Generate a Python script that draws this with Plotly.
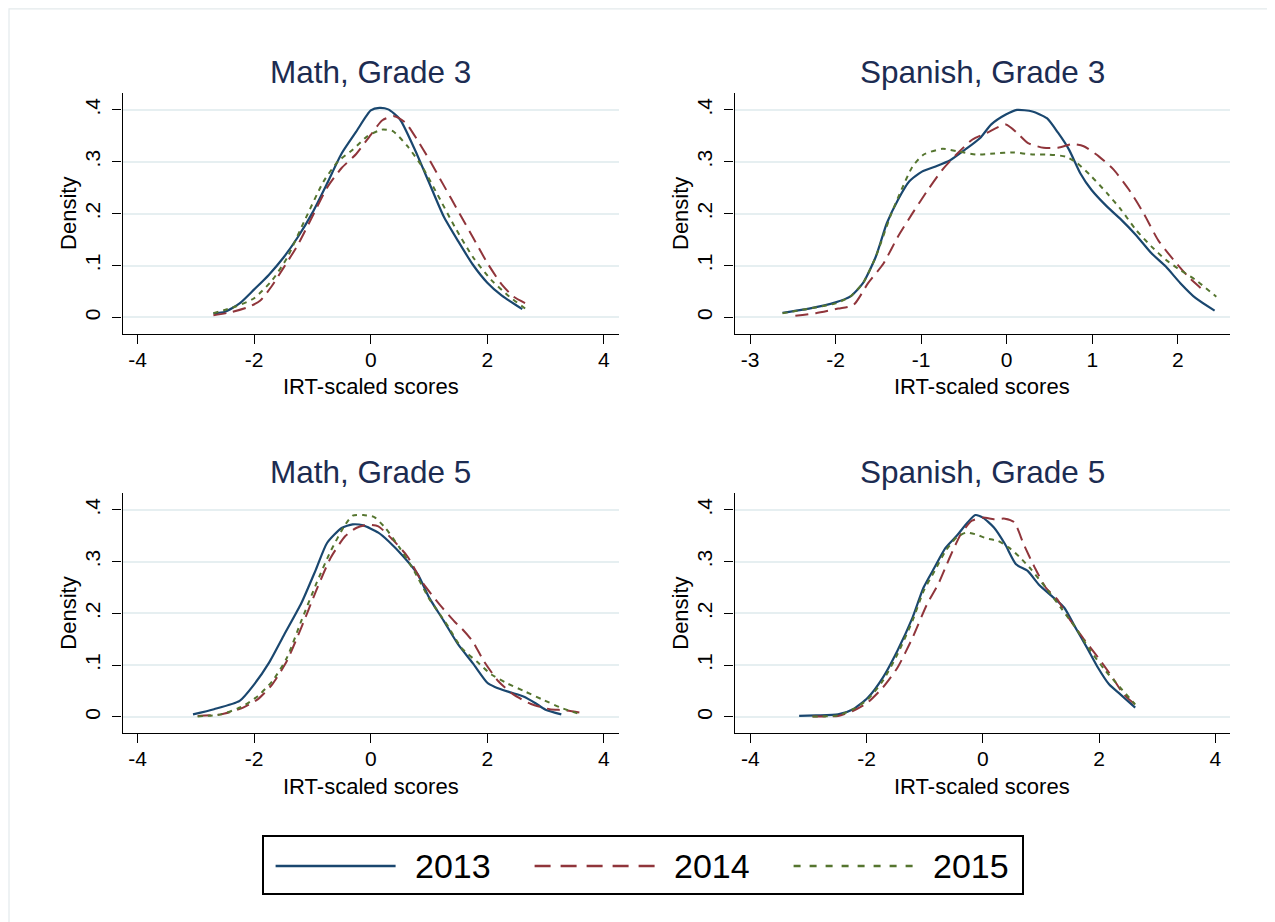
import plotly.graph_objects as go

# ---------------- data ----------------
years = ["2013", "2014", "2015"]
panel_titles = ["Math, Grade 3", "Spanish, Grade 3", "Math, Grade 5", "Spanish, Grade 5"]
x_tick_vals_wide = [-4, -2, 0, 2, 4]
x_tick_vals_sp3 = [-3, -2, -1, 0, 1, 2]
y_tick_vals = [0, 0.1, 0.2, 0.3, 0.4]
y_tick_text = ["0", ".1", ".2", ".3", ".4"]

# Math, Grade 3
m3_2013_x = [-2.70, -2.50, -2.25, -2.00, -1.75, -1.50, -1.25, -1.00, -0.75, -0.50, -0.25, 0.00, 0.15, 0.30, 0.50, 0.75, 1.00, 1.25, 1.50, 1.75, 2.00, 2.25, 2.60]
m3_2013_y = [0.008, 0.011, 0.027, 0.054, 0.082, 0.115, 0.155, 0.202, 0.258, 0.316, 0.358, 0.399, 0.404, 0.401, 0.382, 0.325, 0.260, 0.195, 0.147, 0.102, 0.067, 0.042, 0.016]
m3_2014_x = [-2.70, -2.40, -2.10, -1.90, -1.70, -1.50, -1.25, -1.00, -0.75, -0.50, -0.25, 0.00, 0.20, 0.40, 0.60, 0.80, 1.00, 1.25, 1.50, 1.75, 2.00, 2.25, 2.45, 2.66]
m3_2014_y = [0.004, 0.010, 0.020, 0.032, 0.060, 0.095, 0.140, 0.195, 0.250, 0.288, 0.315, 0.352, 0.380, 0.388, 0.375, 0.342, 0.305, 0.255, 0.205, 0.155, 0.105, 0.063, 0.040, 0.027]
m3_2015_x = [-2.70, -2.32, -2.00, -1.69, -1.44, -1.13, -0.81, -0.56, -0.31, -0.06, 0.19, 0.38, 0.63, 0.88, 1.13, 1.44, 1.75, 2.07, 2.38, 2.69]
m3_2015_y = [0.008, 0.021, 0.037, 0.072, 0.114, 0.188, 0.262, 0.301, 0.323, 0.349, 0.362, 0.359, 0.330, 0.291, 0.240, 0.175, 0.117, 0.072, 0.040, 0.014]

# Spanish, Grade 3
s3_2013_x = [-2.62, -2.31, -2.00, -1.83, -1.68, -1.53, -1.40, -1.27, -1.14, -0.99, -0.83, -0.66, -0.49, -0.31, -0.18, -0.01, 0.12, 0.30, 0.47, 0.60, 0.73, 0.86, 0.99, 1.17, 1.34, 1.51, 1.69, 1.86, 2.03, 2.21, 2.43]
s3_2013_y = [0.009, 0.017, 0.029, 0.040, 0.066, 0.117, 0.182, 0.227, 0.262, 0.281, 0.291, 0.303, 0.323, 0.346, 0.372, 0.391, 0.400, 0.397, 0.384, 0.356, 0.323, 0.278, 0.246, 0.214, 0.188, 0.159, 0.124, 0.098, 0.066, 0.037, 0.013]
s3_2014_x = [-2.47, -2.23, -1.97, -1.79, -1.62, -1.44, -1.27, -1.10, -0.92, -0.75, -0.57, -0.40, -0.23, -0.01, 0.12, 0.25, 0.43, 0.60, 0.77, 0.90, 1.08, 1.25, 1.43, 1.60, 1.77, 1.95, 2.12, 2.30]
s3_2014_y = [0.003, 0.008, 0.017, 0.024, 0.066, 0.104, 0.156, 0.201, 0.246, 0.285, 0.317, 0.343, 0.356, 0.372, 0.356, 0.336, 0.327, 0.327, 0.334, 0.330, 0.310, 0.285, 0.246, 0.201, 0.149, 0.111, 0.079, 0.052]
s3_2015_x = [-2.62, -2.31, -2.00, -1.83, -1.68, -1.53, -1.36, -1.23, -1.10, -0.97, -0.75, -0.57, -0.36, -0.14, 0.08, 0.30, 0.47, 0.69, 0.82, 0.99, 1.17, 1.34, 1.51, 1.69, 1.86, 2.03, 2.21, 2.45]
s3_2015_y = [0.008, 0.017, 0.027, 0.040, 0.066, 0.117, 0.195, 0.246, 0.291, 0.314, 0.325, 0.320, 0.314, 0.316, 0.318, 0.314, 0.314, 0.310, 0.298, 0.272, 0.240, 0.207, 0.169, 0.137, 0.111, 0.091, 0.072, 0.040]

# Math, Grade 5
m5_2013_x = [-3.05, -2.69, -2.25, -2.00, -1.75, -1.50, -1.19, -0.94, -0.75, -0.50, -0.31, -0.13, 0.13, 0.31, 0.56, 0.81, 1.00, 1.25, 1.50, 1.75, 2.00, 2.13, 2.38, 2.63, 2.82, 3.00, 3.27]
m5_2013_y = [0.005, 0.015, 0.031, 0.063, 0.104, 0.156, 0.220, 0.285, 0.336, 0.365, 0.372, 0.370, 0.356, 0.339, 0.310, 0.275, 0.231, 0.186, 0.140, 0.104, 0.066, 0.058, 0.048, 0.039, 0.027, 0.014, 0.005]
m5_2014_x = [-2.97, -2.57, -2.19, -1.94, -1.69, -1.44, -1.19, -0.94, -0.69, -0.44, -0.25, -0.06, 0.13, 0.38, 0.63, 0.88, 1.19, 1.44, 1.56, 1.75, 1.94, 2.19, 2.44, 2.75, 3.07, 3.32, 3.62]
m5_2014_y = [0.002, 0.005, 0.018, 0.034, 0.063, 0.108, 0.173, 0.243, 0.307, 0.349, 0.365, 0.371, 0.368, 0.342, 0.310, 0.261, 0.216, 0.184, 0.171, 0.146, 0.108, 0.069, 0.044, 0.025, 0.015, 0.013, 0.008]
m5_2015_x = [-2.97, -2.57, -2.19, -1.94, -1.69, -1.44, -1.19, -0.94, -0.69, -0.44, -0.31, -0.13, 0.06, 0.25, 0.50, 0.75, 1.00, 1.31, 1.56, 1.82, 2.07, 2.32, 2.63, 2.94, 3.26, 3.60]
m5_2015_y = [0.001, 0.005, 0.021, 0.040, 0.069, 0.114, 0.186, 0.256, 0.320, 0.371, 0.389, 0.390, 0.386, 0.365, 0.326, 0.281, 0.229, 0.178, 0.133, 0.107, 0.082, 0.066, 0.050, 0.034, 0.018, 0.005]

# Spanish, Grade 5
s5_2013_x = [-3.16, -2.87, -2.49, -2.23, -1.98, -1.72, -1.47, -1.21, -1.02, -0.83, -0.64, -0.45, -0.26, -0.13, 0.00, 0.19, 0.38, 0.57, 0.77, 0.96, 1.21, 1.40, 1.59, 1.79, 1.98, 2.17, 2.36, 2.62]
s5_2013_y = [0.002, 0.003, 0.005, 0.015, 0.037, 0.076, 0.128, 0.192, 0.250, 0.289, 0.327, 0.350, 0.376, 0.390, 0.385, 0.366, 0.334, 0.295, 0.282, 0.256, 0.231, 0.211, 0.173, 0.134, 0.095, 0.063, 0.044, 0.018]
s5_2014_x = [-2.93, -2.49, -2.23, -1.98, -1.72, -1.47, -1.21, -0.96, -0.77, -0.57, -0.38, -0.19, 0.00, 0.19, 0.38, 0.54, 0.70, 0.89, 1.08, 1.28, 1.47, 1.72, 1.98, 2.23, 2.42, 2.62]
s5_2014_y = [0.001, 0.002, 0.012, 0.028, 0.057, 0.095, 0.153, 0.218, 0.256, 0.308, 0.353, 0.379, 0.385, 0.382, 0.383, 0.376, 0.334, 0.289, 0.250, 0.227, 0.192, 0.153, 0.115, 0.076, 0.044, 0.024]
s5_2015_x = [-2.93, -2.49, -2.23, -1.98, -1.72, -1.47, -1.21, -1.02, -0.83, -0.64, -0.45, -0.29, -0.13, 0.06, 0.26, 0.45, 0.64, 0.83, 1.08, 1.34, 1.59, 1.85, 2.11, 2.36, 2.62]
s5_2015_y = [0.001, 0.003, 0.015, 0.034, 0.070, 0.121, 0.186, 0.243, 0.282, 0.321, 0.347, 0.356, 0.353, 0.345, 0.340, 0.327, 0.308, 0.285, 0.250, 0.211, 0.173, 0.128, 0.089, 0.057, 0.024]

panels = [
    [(m3_2013_x, m3_2013_y), (m3_2014_x, m3_2014_y), (m3_2015_x, m3_2015_y)],
    [(s3_2013_x, s3_2013_y), (s3_2014_x, s3_2014_y), (s3_2015_x, s3_2015_y)],
    [(m5_2013_x, m5_2013_y), (m5_2014_x, m5_2014_y), (m5_2015_x, m5_2015_y)],
    [(s5_2013_x, s5_2013_y), (s5_2014_x, s5_2014_y), (s5_2015_x, s5_2015_y)],
]

# ---------------- styling / layout ----------------
OFF = 8                      # default page margin of the html body
W, H = 1275 - OFF, 922 - OFF
FONT = "Liberation Sans, Arial, Helvetica, sans-serif"
colors = ["#1a476f", "#90353b", "#55752f"]
dashes = ["solid", "13px,7px", "5px,5px"]
legend_dashes = ["solid", "16px,10px", "7px,9px"]
widths = [2.2, 2.0, 2.0]


def px_x(p):
    return (p - OFF) / W


def px_y(p):
    return 1 - (p - OFF) / H


# pixel geometry of plot areas in the page: (left, right, top, bottom)
boxes = [
    (122.5, 619.0, 93.3, 333.5),
    (734.6, 1230.0, 93.3, 333.5),
    (122.5, 619.0, 493.3, 733.0),
    (734.6, 1230.0, 493.3, 733.0),
]
xranges = [[-4.26, 4.26], [-3.18, 2.61], [-4.26, 4.26], [-4.27, 4.25]]
xticks = [x_tick_vals_wide, x_tick_vals_sp3, x_tick_vals_wide, x_tick_vals_wide]

fig = go.Figure()
layout = dict(
    width=W, height=H,
    margin=dict(l=0, r=0, t=0, b=0, pad=0, autoexpand=False),
    paper_bgcolor="white", plot_bgcolor="white",
    font=dict(family=FONT, color="black"),
    showlegend=False,
)

annotations = []
shapes = []
for i, (box, series) in enumerate(zip(boxes, panels)):
    n = i + 1
    xa = "x" if n == 1 else f"x{n}"
    ya = "y" if n == 1 else f"y{n}"
    for k, (xs, ys) in enumerate(series):
        fig.add_trace(go.Scatter(
            x=xs, y=ys, mode="lines", name=years[k],
            legendgroup=years[k], showlegend=False,
            line=dict(color=colors[k], width=widths[k], dash=dashes[k],
                      shape="spline", smoothing=0.6),
            xaxis=xa, yaxis=ya, hoverinfo="skip",
        ))
    l, r, t, b = box
    axis_common = dict(showline=True, linecolor="black", linewidth=1.3,
                       ticks="outside", ticklen=9, tickwidth=1.3, tickcolor="black",
                       zeroline=False, tickfont=dict(size=21, family=FONT, color="black"))
    layout["xaxis" if n == 1 else f"xaxis{n}"] = dict(
        domain=[px_x(l), px_x(r)], anchor=ya, range=xranges[i],
        tickvals=xticks[i], ticktext=[str(v) for v in xticks[i]],
        showgrid=False, ticklabelstandoff=-2, **axis_common)
    layout["yaxis" if n == 1 else f"yaxis{n}"] = dict(
        domain=[px_y(b), px_y(t)], anchor=xa, range=[-0.031, 0.432],
        tickvals=y_tick_vals, ticktext=y_tick_text, tickangle=-90,
        showgrid=True, gridcolor="#e6eff1", gridwidth=1.5, ticklabelstandoff=4,
        **axis_common)
    cx = (l + r) / 2
    annotations.append(dict(text=panel_titles[i], x=px_x(cx), y=px_y(t - 21), xref="paper", yref="paper",
                            xanchor="center", yanchor="middle", showarrow=False,
                            font=dict(size=31.5, family=FONT, color="#1c2c52")))
    annotations.append(dict(text="IRT-scaled scores", x=px_x(cx), y=px_y(b + 53), xref="paper", yref="paper",
                            xanchor="center", yanchor="middle", showarrow=False,
                            font=dict(size=22, family=FONT, color="black")))
    annotations.append(dict(text="Density", x=px_x(l - 54), y=px_y((t + b) / 2), xref="paper", yref="paper",
                            xanchor="center", yanchor="middle", showarrow=False, textangle=-90,
                            font=dict(size=22, family=FONT, color="black")))

# legend drawn below the panels (box, samples, labels)
leg_left, leg_right, leg_top, leg_bottom = 263, 1023, 836, 894
leg_mid = 866
sample_starts = [275.6, 534.6, 793.6]
sample_len = 120
text_gap = 17
shapes.append(dict(type="rect", xref="paper", yref="paper",
                   x0=px_x(leg_left), x1=px_x(leg_right), y0=px_y(leg_bottom), y1=px_y(leg_top),
                   line=dict(color="black", width=2), fillcolor="white", layer="above"))
for k, sx in enumerate(sample_starts):
    shapes.append(dict(type="line", xref="paper", yref="paper",
                       x0=px_x(sx), x1=px_x(sx + sample_len), y0=px_y(leg_mid), y1=px_y(leg_mid),
                       line=dict(color=colors[k], width=2.6, dash=legend_dashes[k]), layer="above"))
    annotations.append(dict(text=years[k], x=px_x(sx + sample_len + text_gap), y=px_y(leg_mid),
                            xref="paper", yref="paper", xanchor="left", yanchor="middle",
                            showarrow=False, font=dict(size=34, family=FONT, color="black")))

# faint outer frame
shapes.append(dict(type="rect", xref="paper", yref="paper",
                   x0=0.0008, x1=px_x(1274), y0=-0.05, y1=0.999,
                   line=dict(color="#e3eaec", width=1.2), fillcolor="rgba(0,0,0,0)", layer="below"))

layout["annotations"] = annotations
layout["shapes"] = shapes
fig.update_layout(**layout)
fig.write_html("out.html")
